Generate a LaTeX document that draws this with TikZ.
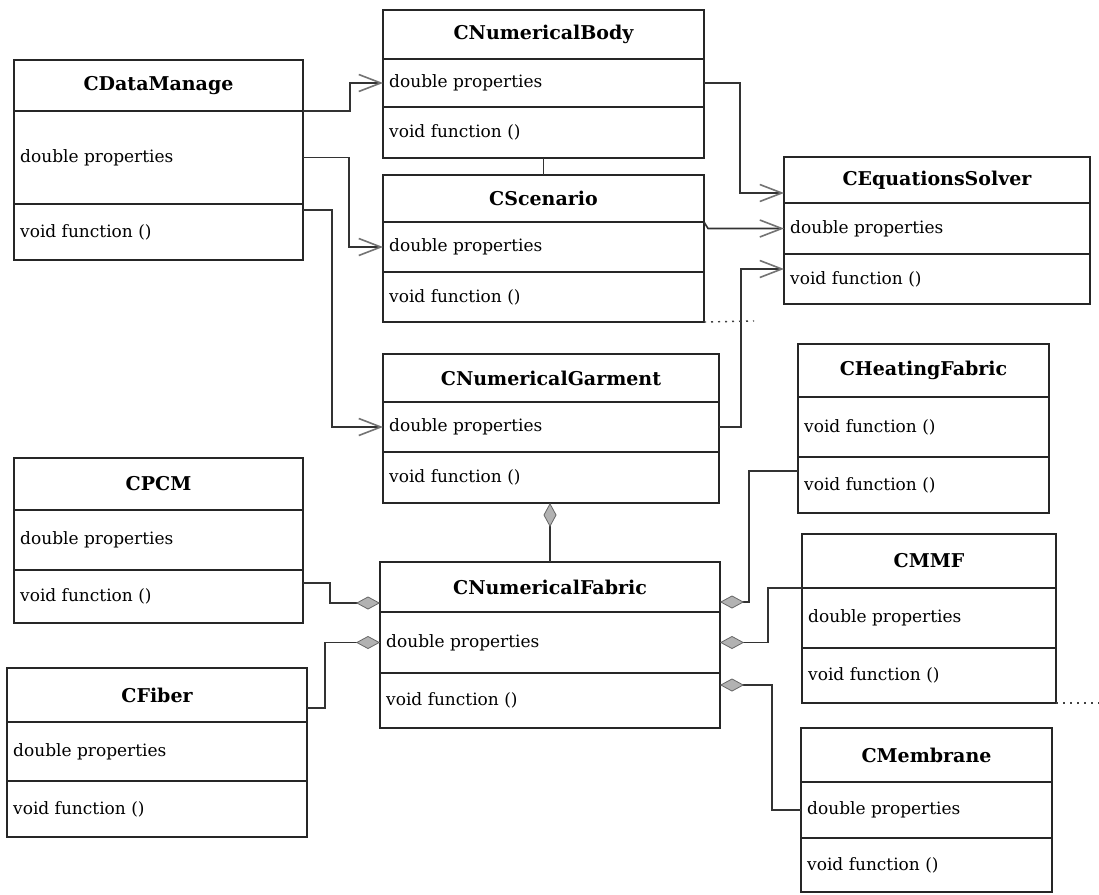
\documentclass[tikz,border=0pt]{standalone}
\usepackage{fontspec}
\setmainfont{DejaVu Serif}
\usetikzlibrary{arrows.meta,calc}

\tikzset{
  cell/.style={draw=black!85, line width=1.6pt, inner sep=0pt, outer sep=0pt, anchor=north west, fill=white},
  titletext/.style={font=\fontsize{19}{22}\selectfont\bfseries, inner sep=0pt},
  rowtext/.style={font=\fontsize{17}{20}\selectfont, anchor=west, inner sep=0pt},
  link/.style={draw=black!80, line width=1.6pt},
  uses/.style={link, -{Straight Barb[length=22pt,width=17pt,line width=1.6pt,color=black!55]}},
  partof/.style={link, -{Diamond[length=24pt,width=13pt,line width=0.8pt,fill=black!30,color=black!60]}},
  dotlink/.style={draw=black!75, line width=1.4pt, dash pattern=on 2pt off 5pt},
}

% class box: name, top-left corner, width, three compartment heights, title, two rows
\newcommand{\umlclass}[9]{%
  \node[cell, minimum width=#3, minimum height=#4] (#1-t) at (#2) {};
  \node[titletext] (#1-tt) at (#1-t.center) {#7};
  \node[cell, minimum width=#3, minimum height=#5] (#1-a) at (#1-t.south west) {};
  \node[rowtext] (#1-at) at ([xshift=6pt]#1-a.west) {#8};
  \node[cell, minimum width=#3, minimum height=#6] (#1-o) at (#1-a.south west) {};
  \node[rowtext] (#1-ot) at ([xshift=6pt]#1-o.west) {#9};
}

\begin{document}
\begin{tikzpicture}[x=1pt, y=-1pt]
\useasboundingbox[fill=white] (0,0) rectangle (1099,894);

% classes
\umlclass{dm}{14,60}{289pt}{51pt}{93pt}{56pt}{CDataManage}{double properties}{void function ()}
\umlclass{nb}{383,10}{321pt}{49pt}{48pt}{51pt}{CNumericalBody}{double properties}{void function ()}
\umlclass{sc}{383,175}{321pt}{47pt}{50pt}{50pt}{CScenario}{double properties}{void function ()}
\umlclass{es}{784,157}{306pt}{46pt}{51pt}{50pt}{CEquationsSolver}{double properties}{void function ()}
\umlclass{ng}{383,354}{336pt}{48pt}{50pt}{51pt}{CNumericalGarment}{double properties}{void function ()}
\umlclass{hf}{798,344}{251pt}{53pt}{60pt}{56pt}{CHeatingFabric}{void function ()}{void function ()}
\umlclass{pcm}{14,458}{289pt}{52pt}{60pt}{53pt}{CPCM}{double properties}{void function ()}
\umlclass{nf}{380,562}{340pt}{50pt}{61pt}{55pt}{CNumericalFabric}{double properties}{void function ()}
\umlclass{mmf}{802,534}{254pt}{54pt}{60pt}{55pt}{CMMF}{double properties}{void function ()}
\umlclass{fib}{7,668}{300pt}{54pt}{59pt}{56pt}{CFiber}{double properties}{void function ()}
\umlclass{mem}{801,728}{251pt}{54pt}{56pt}{54pt}{CMembrane}{double properties}{void function ()}

% dependencies of the data manager
\draw[uses] (dm-a.north east) -- ++(47,0) |- (nb-a.west);
\draw[uses] (dm-a.east) -- ++(46,0) |- (sc-a.west);
\draw[uses] ([yshift=-6pt]dm-o.north east) -- ++(29,0) |- (ng-a.west);

% dependencies of the solver
\draw[uses] (nb-a.east) -- ++(36,0) |- ([yshift=-13pt]es-t.west);
\draw[uses] (sc-a.north east) -- ([xshift=4pt]sc-a.north east |- es-a.west) -- (es-a.west);
\draw[uses] (ng-a.east) -- ++(22,0) |- ([yshift=10pt]es-o.west);

% short link between body and scenario
\draw[link, line width=0.8pt] (nb-o.south) -- (sc-t.north);

% aggregations
\draw[partof] (nf-t.north) -- (nf-t.north |- ng-o.south);
\draw[partof] ([yshift=-13pt]pcm-o.north east) -- ++(27,0) |- ([yshift=-16pt]nf-t.west);
\draw[partof] ([yshift=-13pt]fib-t.east) -- ++(18,0) |- (nf-a.west);
\draw[partof] ([yshift=14pt]hf-o.west) -- ++(-49,0) |- ([yshift=-15pt]nf-t.east);
\draw[partof] (mmf-a.north west) -- ++(-34,0) |- (nf-a.east);
\draw[partof] (mem-a.west) -- ++(-29,0) |- ([yshift=-12pt]nf-o.north east);

% dotted continuations
\coordinate (dotA) at (754,321);
\coordinate (dotB) at (1099,703);
\draw[dotlink] (sc-o.south east) -- (dotA);
\draw[dotlink] (mmf-o.south east) -- (dotB);
\end{tikzpicture}
\end{document}
